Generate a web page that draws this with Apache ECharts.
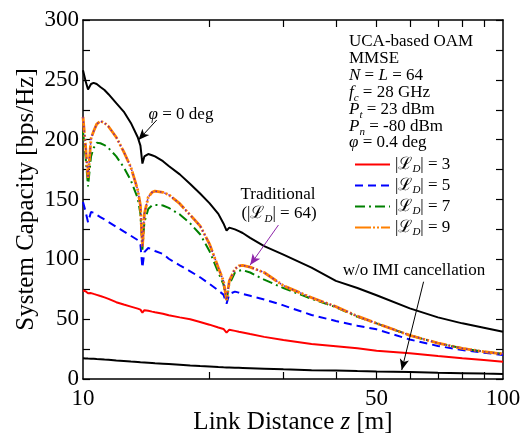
<!DOCTYPE html>
<html>
<head>
<meta charset="utf-8">
<script src="https://cdn.jsdelivr.net/npm/echarts@6/dist/echarts.min.js"></script>
<style>
  html, body { margin: 0; padding: 0; background: #fff; }
  #chart { width: 531px; height: 437px; }
</style>
</head>
<body>
<div id="chart"></div>
<script>
// link distance z [m]
const distance = [10, 10.14, 10.28, 10.45, 10.6, 10.78, 11, 11.25, 11.5, 12,
  12.5, 13, 13.5, 13.7, 13.85, 14.0, 14.3, 14.6, 14.84, 15.5,
  16, 17, 18, 19, 20, 21, 21.6, 21.97, 22.3, 23,
  23.5, 24, 25, 27, 30, 35, 40, 45, 50, 60,
  70, 80, 90, 100];

// system capacity [bps/Hz]
const capPhi0 = [258, 249, 242, 246.5, 247.5, 246.5, 244, 241.5, 238, 230.5,
  223.5, 214, 202, 195, 180, 186, 188, 187, 186, 182,
  178, 171, 163, 155, 147, 138, 130, 124, 126.5, 125,
  123.5, 122, 118, 111, 104, 93, 82, 76, 70, 59,
  51.5, 46.5, 42.9, 39.5];
const capNoIMI = [17.3, 17.2, 17.1, 17, 16.9, 16.7, 16.5, 16.2, 16, 15.5,
  15.1, 14.6, 14.2, 14, 13.9, 13.8, 13.6, 13.4, 13.2, 12.8,
  12.5, 11.9, 11.3, 10.8, 10.4, 10, 9.8, 9.7, 9.6, 9.4,
  9.3, 9.2, 9, 8.6, 8.1, 7.4, 7, 6.6, 6.3, 5.8,
  5.3, 4.9, 4.5, 4.2];
const capL3 = [74, 73.3, 71.6, 71.8, 71.1, 70.3, 69.3, 68.2, 67, 64.2,
  62.2, 60.5, 58.8, 58, 55.4, 57.5, 57, 56.3, 55.8, 54.5,
  53.2, 51.5, 50, 47.7, 45.4, 43, 41.8, 38.7, 41.2, 40.2,
  39.5, 38.9, 37.6, 35.2, 32.5, 29.3, 27.4, 25.6, 23.7, 21.5,
  19.2, 17.3, 15.9, 14.5];
const capL5 = [148, 140, 131, 139.5, 139, 137.2, 135.3, 133.3, 131.2, 127.2,
  123.3, 119.7, 116.1, 112.5, 93, 106, 109.5, 108.3, 107, 104.5,
  100.5, 95, 90, 85, 79.5, 74, 70.5, 63, 71, 73,
  72.2, 71, 69.5, 66.5, 61.5, 53.5, 48.5, 44.5, 41.5, 33,
  27.6, 24.2, 22, 20];
const capL7 = [207, 186, 161, 186, 193, 197.5, 197, 195.5, 193, 186,
  177, 166, 151, 138, 108, 131, 142, 145, 145.5, 145,
  143, 137.5, 130, 121, 107, 89, 79, 66, 79, 89,
  90.5, 91, 89, 83, 76, 67, 60, 52, 46.5, 36.5,
  30, 25.6, 22.8, 21];
const capL9 = [219, 195, 168, 201, 207, 213, 215.5, 214, 211, 202,
  190, 177, 158, 145, 110, 138, 152, 156, 157, 156,
  154, 146.5, 137, 128, 113, 93, 82, 66, 82, 92,
  94.5, 95, 93.5, 89, 78, 68, 60.5, 52.5, 46.5, 36.5,
  30, 25.6, 22.8, 21];
const capTraditional = [219, 195, 168, 201, 207, 213, 215.5, 214, 211, 202,
  190, 177, 158, 145, 110, 138, 152, 156, 157, 156,
  154, 146.5, 137, 128, 113, 93, 82, 66, 82, 92,
  94.5, 95, 93.5, 89, 78, 68, 60.5, 52.5, 46.5, 36.5,
  30, 25.6, 22.8, 21];

const xTickValues = [20, 30, 40, 50, 60, 70, 80, 90];
const xLabelValues = [10, 50, 100];

// arrow annotations [start, tip] as [z, capacity]
const arrowPhi0 = [[14.98, 216.4], [13.55, 199.7]];
const arrowTraditional = [[29.2, 128.7], [25.0, 95.2]];
const arrowNoIMI = [[64.7, 81.3], [57.4, 7.5]];

const FONT = '"Liberation Serif", "DejaVu Serif", serif';

function pairs(vals) {
  return distance.map((z, i) => [z, vals[i]]);
}

const RICH = {
  i: { fontStyle: 'italic', fontSize: 17, fontFamily: FONT, color: '#000' },
  l: { fontSize: 17, fontFamily: FONT, color: '#000' },
  s: { fontStyle: 'italic', fontSize: 11, fontFamily: FONT, color: '#000', padding: [10, 0, 0, 0], lineHeight: 17 }
};

function txt(x, y, text, align) {
  return {
    type: 'text', x: x, y: y, silent: true,
    style: {
      text: text, fontSize: 17, fontFamily: FONT, fill: '#000',
      align: align || 'left', verticalAlign: 'middle', rich: RICH
    }
  };
}

function arrowLine(pts, color) {
  return {
    silent: true, animation: false,
    symbol: ['none', 'arrow'], symbolSize: [7, 11],
    lineStyle: { color: color, width: 1, type: 'solid' },
    label: { show: false },
    data: [[{ coord: pts[0] }, { coord: pts[1] }]]
  };
}

const chart = echarts.init(document.getElementById('chart'));

const axisLine = { show: true, onZero: false, lineStyle: { color: '#000', width: 1.5 } };
const tickStyle = { color: '#000', width: 1.2 };

const option = {
  animation: false,
  backgroundColor: '#fff',
  grid: { left: 83, right: 28, top: 20, bottom: 58, containLabel: false, outerBoundsMode: 'none' },
  xAxis: [
    {
      type: 'log', logBase: 10, min: 10, max: 100, position: 'bottom',
      axisLine: axisLine,
      axisTick: { show: true, inside: true, length: 7, customValues: xTickValues, lineStyle: tickStyle },
      axisLabel: { customValues: xLabelValues, color: '#000', fontSize: 23, fontFamily: FONT, margin: 8 },
      splitLine: { show: false },
      name: 'Link Distance {i|z} [m]', nameLocation: 'middle', nameGap: 31, nameMoveOverlap: false,
      nameTextStyle: {
        fontSize: 25, fontFamily: FONT, color: '#000',
        rich: { i: { fontStyle: 'italic', fontSize: 25, fontFamily: FONT, color: '#000' } }
      }
    },
    {
      type: 'log', logBase: 10, min: 10, max: 100, position: 'top',
      axisLine: axisLine,
      axisTick: { show: true, inside: true, length: 7, customValues: xTickValues, lineStyle: tickStyle },
      axisLabel: { show: false },
      splitLine: { show: false }
    }
  ],
  yAxis: [
    {
      type: 'value', min: 0, max: 300, interval: 25, position: 'left',
      axisLine: axisLine,
      axisTick: { show: true, inside: true, length: 7, lineStyle: tickStyle },
      axisLabel: {
        formatter: v => (v % 50 === 0 ? String(v) : ''),
        color: '#000', fontSize: 23, fontFamily: FONT, margin: 4
      },
      splitLine: { show: false },
      name: 'System Capacity [bps/Hz]', nameLocation: 'middle', nameGap: 44, nameMoveOverlap: false,
      nameTextStyle: { fontSize: 25, fontFamily: FONT, color: '#000' }
    },
    {
      type: 'value', min: 0, max: 300, interval: 25, position: 'right',
      axisLine: axisLine,
      axisTick: { show: true, inside: true, length: 7, lineStyle: tickStyle },
      axisLabel: { show: false },
      splitLine: { show: false }
    }
  ],
  legend: {
    data: ['L3', 'L5', 'L7', 'L9'],
    orient: 'vertical', left: 349, top: 149,
    itemWidth: 35, itemHeight: 10, itemGap: 0,
    selectedMode: false,
    itemStyle: { opacity: 0 },
    formatter: name => '|{l|ℒ}{s|D}| = ' + name.slice(1),
    textStyle: { fontSize: 17, fontFamily: FONT, color: '#000', rich: RICH }
  },
  graphic: [
    txt(349, 42, 'UCA-based OAM'),
    txt(349, 59, 'MMSE'),
    txt(349, 76, '{i|N} = {i|L} = 64'),
    txt(349, 93, '{i|f}{s|c} = 28 GHz'),
    txt(349, 110, '{i|P}{s|t} = 23 dBm'),
    txt(349, 127, '{i|P}{s|n} = -80 dBm'),
    txt(349, 143, '{i|φ} = 0.4 deg'),
    txt(181, 115, '{i|φ} = 0 deg', 'center'),
    txt(278, 195, 'Traditional', 'center'),
    txt(279, 214, '(|{l|ℒ}{s|D}| = 64)', 'center'),
    txt(414, 271, 'w/o IMI cancellation', 'center')
  ],
  series: [
    {
      name: 'phi0', type: 'line', data: pairs(capPhi0), symbol: 'none', showSymbol: false,
      lineStyle: { color: '#000', width: 2 }, itemStyle: { color: '#000' },
      markLine: arrowLine(arrowPhi0, '#000')
    },
    {
      name: 'noIMI', type: 'line', data: pairs(capNoIMI), symbol: 'none', showSymbol: false,
      lineStyle: { color: '#000', width: 2 }, itemStyle: { color: '#000' },
      markLine: arrowLine(arrowNoIMI, '#000')
    },
    {
      name: 'L3', type: 'line', data: pairs(capL3), symbol: 'none', showSymbol: false,
      lineStyle: { color: '#ff0000', width: 2 }, itemStyle: { color: '#ff0000' }
    },
    {
      name: 'L5', type: 'line', data: pairs(capL5), symbol: 'none', showSymbol: false,
      lineStyle: { color: '#0000ff', width: 2, type: [8, 5] }, itemStyle: { color: '#0000ff' }
    },
    {
      name: 'L7', type: 'line', data: pairs(capL7), symbol: 'none', showSymbol: false,
      lineStyle: { color: '#008000', width: 2, type: [10, 4, 2, 4] }, itemStyle: { color: '#008000' }
    },
    {
      name: 'L9', type: 'line', data: pairs(capL9), symbol: 'none', showSymbol: false,
      lineStyle: { color: '#ff8000', width: 2.8, type: [16, 2, 2, 2, 2, 2] }, itemStyle: { color: '#ff8000' }
    },
    {
      name: 'Traditional', type: 'line', data: pairs(capTraditional), symbol: 'none', showSymbol: false,
      lineStyle: { color: '#7b1fa2', width: 1.5, type: [1.5, 3] }, itemStyle: { color: '#7b1fa2' },
      markLine: arrowLine(arrowTraditional, '#8e24aa')
    }
  ]
};

chart.setOption(option);
</script>
</body>
</html>
